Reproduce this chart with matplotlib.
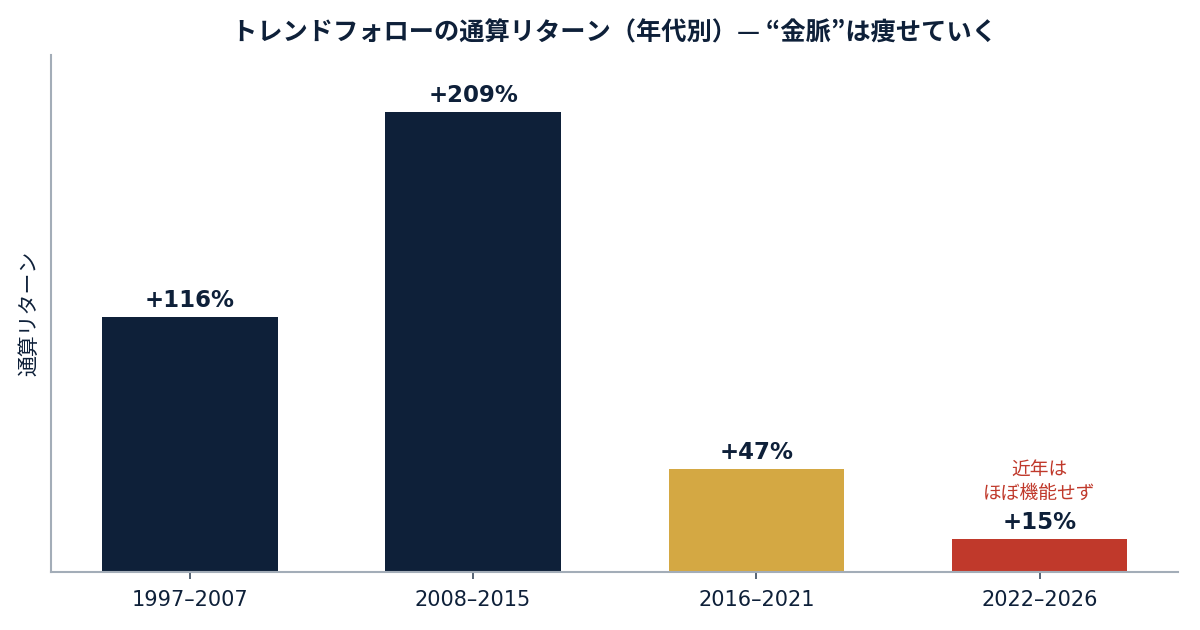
import numpy as np
import matplotlib
matplotlib.use('Agg')
import matplotlib.pyplot as plt

plt.rcParams['font.family'] = ['DejaVu Sans', 'Noto Sans CJK JP']

periods = ['1997–2007', '2008–2015', '2016–2021', '2022–2026']
returns = [116, 209, 47, 15]
labels = ['+116%', '+209%', '+47%', '+15%']
colors = ['#0E2039', '#0E2039', '#D4A843', '#C0392B']

navy = '#0E2039'
spine = '#A3ADB8'

fig = plt.figure(figsize=(12, 6.3), dpi=100)
ax = fig.add_axes([0.0425, 0.092, 0.9395, 0.821])

x = np.arange(len(periods))
ax.bar(x, returns, width=0.62, color=colors, zorder=2)

for xi, v, lab in zip(x, returns, labels):
    ax.annotate(lab, (xi, v), xytext=(0, 3.5), textcoords='offset points',
                ha='center', va='bottom', fontsize=16.5, fontweight='bold',
                color=navy)

ax.annotate('近年は\nほぼ機能せず', (x[-1], returns[-1]), xytext=(0, 25),
            textcoords='offset points', ha='center', va='bottom',
            fontsize=13.5, color='#C0392B', linespacing=1.2,
            family=['Noto Sans CJK JP', 'DejaVu Sans'])

ax.set_xlim(-0.49, 3.49)
ax.set_ylim(0, 235)
ax.set_xticks(x)
ax.set_xticklabels(periods, fontsize=15, color=navy)
ax.set_yticks([])
ax.tick_params(axis='x', color='#3A4A5E', length=5, width=1.2, pad=8)

ax.set_ylabel('通算リターン', fontsize=15, color=navy, labelpad=8,
              family=['Noto Sans CJK JP', 'DejaVu Sans'])
ax.set_title('トレンドフォローの通算リターン（年代別）— “金脈”は痩せていく',
             fontsize=18.2, fontweight='bold', color=navy, pad=10,
             family=['Noto Sans CJK JP', 'DejaVu Sans'])

for s in ['top', 'right']:
    ax.spines[s].set_visible(False)
for s in ['left', 'bottom']:
    ax.spines[s].set_color(spine)
    ax.spines[s].set_linewidth(1.5)

fig.savefig('out.png', dpi=100)
